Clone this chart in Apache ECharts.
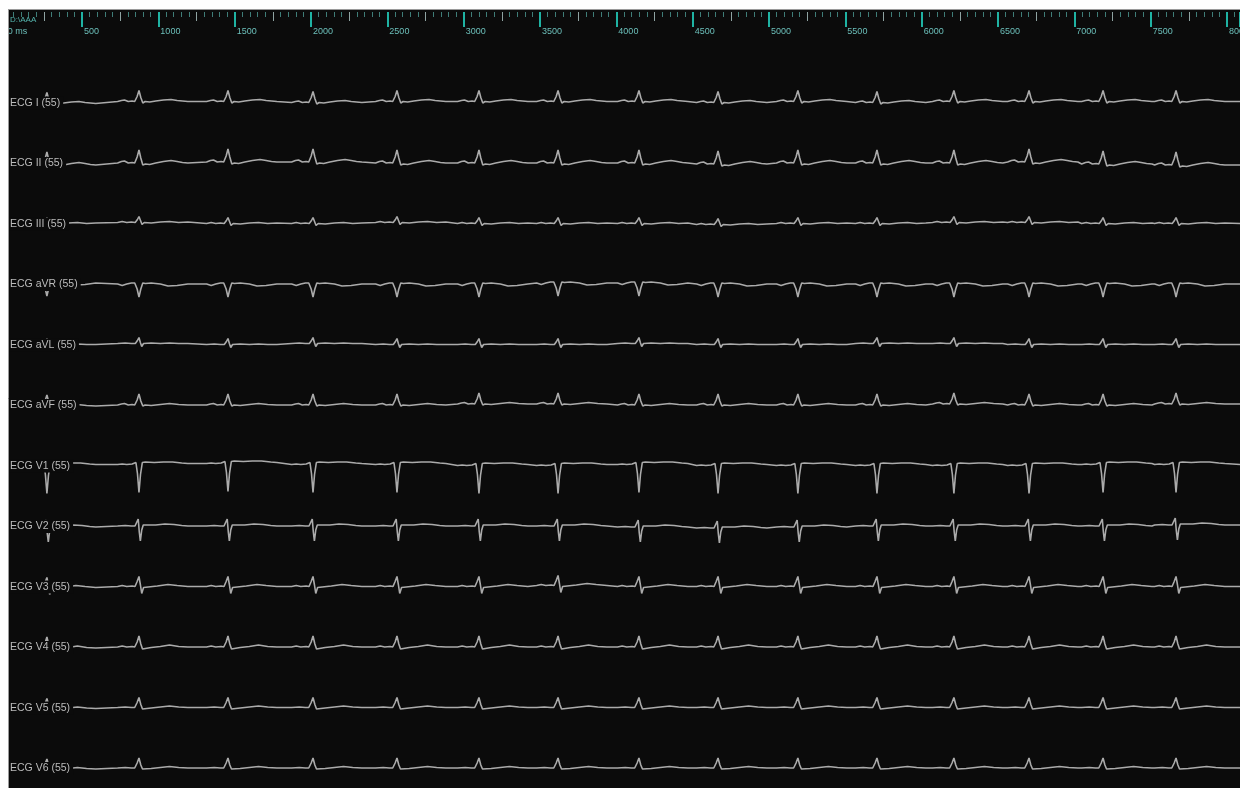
<!DOCTYPE html>
<html lang="en">
<head>
    <meta charset="utf-8">
    <title>ECG 12 lead</title>
    <script src="https://cdn.jsdelivr.net/npm/echarts@6/dist/echarts.min.js"></script>
    <style>
        html, body { margin: 0; padding: 0; background: #fff; }
        #main { width: 1240px; height: 788px; }
    </style>
</head>
<body>
<div id="main"></div>
<script type="text/javascript">
    const beatTimes = [270, 873, 1456, 2013, 2563, 3100, 3618, 4148, 4666, 5189, 5707, 6211, 6703, 7188, 7666];

    const leadNames = ['ECG I (55)', 'ECG II (55)', 'ECG III (55)', 'ECG aVR (55)', 'ECG aVL (55)', 'ECG aVF (55)',
        'ECG V1 (55)', 'ECG V2 (55)', 'ECG V3 (55)', 'ECG V4 (55)', 'ECG V5 (55)', 'ECG V6 (55)'];

    // one beat per lead: [offset from R (ms), amplitude]
    const beatShapes = [
        [[-140,0],[-115,1],[-95,1.5],[-70,0],[-45,0.5],[-28,0],[-12,5],[0,11],[12,4],[25,-1.5],[40,0],[70,-0.5],[110,0.5],[160,1.5],[210,2],[250,1],[285,0.5],[320,0]],
        [[-140,0],[-115,1.5],[-95,2],[-70,0],[-45,0.5],[-28,0],[-12,6],[0,13],[12,5],[25,-2],[42,-1],[70,-1.5],[110,0],[160,1.5],[210,2.5],[250,1.5],[285,0.5],[320,0]],
        [[-140,0],[-110,1],[-80,0],[-50,0.5],[-25,0],[-10,3],[0,6],[10,2],[20,-2],[34,0],[80,-0.5],[140,0.5],[200,1],[260,0],[320,0.5]],
        [[-140,0],[-110,-1.5],[-80,0],[-50,1],[-28,1],[-12,-5],[0,-13],[12,-5],[25,1],[42,0.5],[80,1],[140,0],[190,-2],[250,-1.5],[320,0]],
        [[-140,0],[-90,0.5],[-50,0],[-24,0],[-10,3],[0,6],[9,1],[18,-3],[30,0],[80,0.5],[140,0],[200,0.5],[260,0],[320,0]],
        [[-140,0],[-115,1],[-95,1.5],[-70,0],[-45,0.5],[-28,0],[-12,5],[0,11],[12,4],[25,-1],[40,0],[80,-0.5],[140,0.5],[200,1.5],[260,0.5],[320,0]],
        [[-140,0],[-110,0.5],[-80,0],[-45,0.5],[-32,0],[-20,2],[-10,-9],[0,-28],[10,-10],[22,2],[42,2.5],[100,2],[160,2.5],[220,2.5],[280,1.5],[320,1]],
        [[-140,0],[-90,0.5],[-50,0],[-26,0],[-14,4],[-5,7],[2,-6],[9,-15],[18,-4],[28,1],[50,1],[110,1],[170,2],[230,1.5],[280,0.5],[320,0]],
        [[-140,0],[-110,1],[-80,0],[-45,0.5],[-26,0],[-12,5],[0,10],[9,2],[18,-7],[30,-1],[60,-0.5],[120,0.5],[190,2],[250,1],[320,0]],
        [[-140,0],[-110,1],[-80,0],[-45,0.5],[-28,0],[-12,5],[0,11],[12,3],[23,-2],[36,0],[80,-0.5],[140,0.5],[200,2],[260,0.5],[320,0]],
        [[-140,0],[-90,0.5],[-50,0],[-28,0],[-12,5],[0,10],[12,3],[23,-1.5],[36,0],[80,-0.5],[140,0.5],[200,1.5],[260,0.5],[320,0]],
        [[-140,0],[-90,0.5],[-50,0],[-28,0],[-12,5],[0,10],[12,3],[23,-1],[36,0],[80,-0.5],[140,0.5],[200,1.5],[260,0.5],[320,0]]
    ];

    // baseline level of each beat, per lead
    const beatBaselines = [
        [-1,1,1,0,1,1,1,1,0,1,0,1,1,1,1],
        [-2,0,1,1,0,0,0,0,-1,0,0,0,1,-1,-2],
        [0,1,0,0,1,0,0,0,-1,0,0,1,1,0,0],
        [1,0,0,0,0,0,1,1,0,0,0,0,0,0,0],
        [0,1,0,1,0,0,0,1,0,0,1,1,0,0,0],
        [-1,0,0,0,0,1,1,0,0,0,0,1,0,0,1],
        [0,1,2,1,1,0,0,1,0,0,0,0,0,1,1],
        [-1,0,0,0,0,0,0,-1,-2,-1,0,0,0,0,1],
        [-1,0,0,0,0,0,1,0,0,0,0,0,0,0,0],
        [-1,0,0,0,0,0,0,0,0,0,0,0,0,0,0],
        [-1,0,0,0,0,0,0,0,0,0,0,0,0,0,0],
        [-1,0,0,0,0,0,0,0,0,0,0,0,0,0,0]
    ];

    const tickLabels = ['0 ms', '500', '1000', '1500', '2000', '2500', '3000', '3500', '4000',
        '4500', '5000', '5500', '6000', '6500', '7000', '7500', '8000'];

    const xMax = 8085;
    const gridLeft = 5.7;
    const firstBase = 102.5;
    const leadGap = 60.5;

    function buildLead(li) {
        const base = beatBaselines[li];
        const pts = [[0, base[0]]];
        beatTimes.forEach(function (t, bi) {
            beatShapes[li].forEach(function (p) {
                pts.push([t + p[0], p[1] + base[bi]]);
            });
        });
        pts.push([xMax, base[base.length - 1]]);
        return pts;
    }

    const grids = [{left: gridLeft, right: 0, top: 11, height: 1, outerBoundsMode: 'none'}];
    const xAxes = [];
    const yAxes = [{gridIndex: 0, show: false}];
    const series = [];
    const graphics = [];

    // ruler: minor, medium and major ticks
    const rulerTicks = [
        {interval: 50, length: 5, color: '#3f7d78', width: 1},
        {interval: 250, length: 9, color: '#8fa3a2', width: 1},
        {interval: 500, length: 15, color: '#1fb3a3', width: 2}
    ];
    rulerTicks.forEach(function (rt, i) {
        xAxes.push({
            gridIndex: 0, type: 'value', position: 'bottom', min: 0, max: xMax, interval: rt.interval,
            axisLine: {show: false}, splitLine: {show: false},
            axisTick: {show: true, inside: false, length: rt.length, lineStyle: {color: rt.color, width: rt.width}},
            axisLabel: i < 2 ? {show: false} : {
                show: true, align: 'left', margin: 15, padding: [0, 0, 0, 2],
                color: '#6cbfba', fontSize: 9, fontFamily: 'Liberation Sans',
                formatter: function (v) {
                    return v % 500 === 0 ? (tickLabels[v / 500] || '') : '';
                }
            }
        });
    });

    leadNames.forEach(function (name, li) {
        const base = firstBase + leadGap * li;
        grids.push({left: gridLeft, right: 0, top: base - 30, height: 60, outerBoundsMode: 'none'});
        xAxes.push({gridIndex: li + 1, type: 'value', min: 0, max: xMax, show: false});
        yAxes.push({gridIndex: li + 1, type: 'value', min: -30, max: 30, show: false});
        series.push({
            type: 'line', xAxisIndex: li + 3, yAxisIndex: li + 1,
            data: buildLead(li), showSymbol: false, silent: true,
            lineStyle: {color: '#ababab', width: 1.6}
        });
        graphics.push({
            type: 'text', z: 50, left: 8, top: base - 6,
            style: {
                text: name, fill: '#bcbcbc', font: '10.5px "Liberation Sans"',
                backgroundColor: '#0b0b0b', padding: [1, 3, 1, 2]
            }
        });
    });

    graphics.push(
        {type: 'text', z: 50, left: 10, top: 16, style: {text: 'D:\\AAA', fill: '#55b5ae', font: '8px "Liberation Sans"'}},
        {type: 'rect', z: 60, shape: {x: 0, y: 0, width: 1240, height: 9}, style: {fill: '#ffffff'}},
        {type: 'rect', z: 60, shape: {x: 0, y: 0, width: 8, height: 788}, style: {fill: '#ffffff'}},
        {type: 'line', z: 61, shape: {x1: 8, y1: 9.5, x2: 1240, y2: 9.5}, style: {stroke: '#9a9a9a', lineWidth: 1}},
        {type: 'line', z: 61, shape: {x1: 8.5, y1: 9, x2: 8.5, y2: 788}, style: {stroke: '#9a9a9a', lineWidth: 1}}
    );

    const myChart = echarts.init(document.getElementById('main'));
    myChart.setOption({
        animation: false,
        backgroundColor: '#0b0b0b',
        grid: grids,
        xAxis: xAxes,
        yAxis: yAxes,
        series: series,
        graphic: graphics
    });
</script>
</body>
</html>
